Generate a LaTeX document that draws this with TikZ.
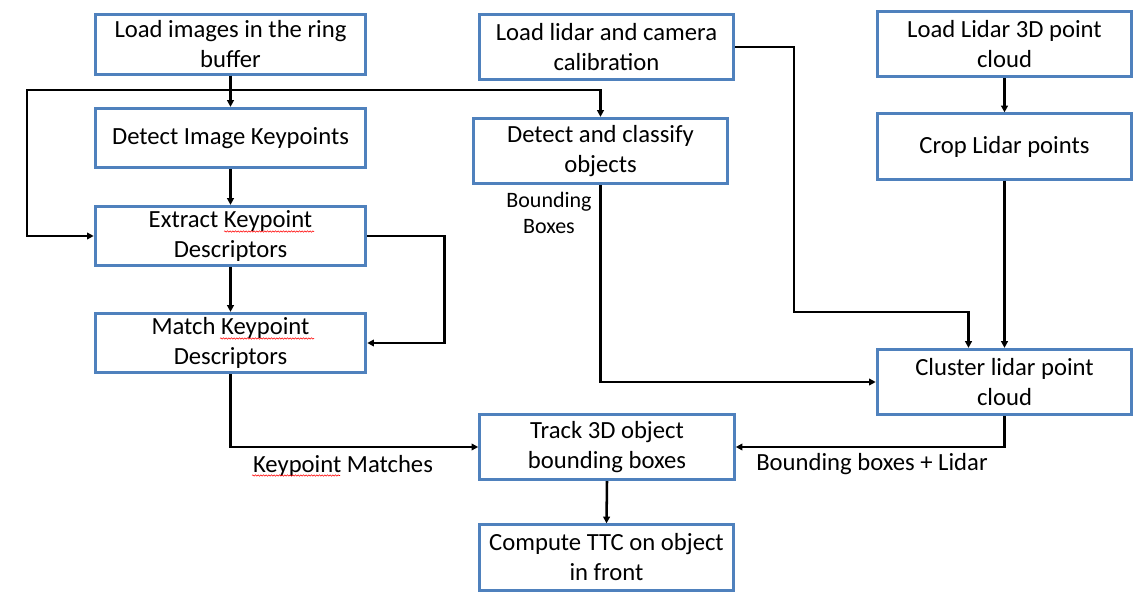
\documentclass[tikz,border=0pt]{standalone}
\usepackage{fontspec}
\setmainfont{Carlito}
\usetikzlibrary{arrows.meta,calc,positioning,decorations.pathmorphing}
\definecolor{boxblue}{RGB}{79,129,189}

\begin{document}
\begin{tikzpicture}[
    x=0.75pt,
    y=-0.75pt,
    >={Triangle[length=5pt,width=5pt]},
    box/.style={draw=boxblue, line width=2.2pt, align=center, minimum width=191pt, minimum height=49pt, inner sep=1pt, font=\fontsize{18.5}{22.5}\selectfont},
    widebox/.style={box, minimum width=203pt, minimum height=44.5pt},
    tag/.style={align=center, inner sep=0pt, font=\fontsize{18.5}{22.5}\selectfont},
    smalltag/.style={align=center, inner sep=0pt, font=\fontsize{16.5}{19.5}\selectfont},
    line/.style={->, line width=1.9pt},
    spell/.style={red, line width=0.4pt, decorate, decoration={snake, amplitude=0.5pt, segment length=2pt}}
]
\useasboundingbox (0,0) rectangle (1142,598);
% camera branch
\node[widebox] (ring) at (230.5,44.5) {Load images in the ring\\buffer};
\node[widebox] (kpdetect) at (230.5,138) {Detect Image Keypoints};
\node[widebox] (extract) at (230.5,236) {Extract Keypoint\\Descriptors};
\node[widebox] (match) at (230.5,343) {Match Keypoint\\Descriptors};
% object detection
\node[box] (calib) at (606.5,47) {Load lidar and camera\\calibration};
\node[box] (classify) at (600.5,151) {Detect and classify\\objects};
\node[box] (track) at (607,447) {Track 3D object\\bounding boxes};
\node[box] (ttc) at (606.5,557.5) {Compute TTC on object\\in front};
% lidar branch
\node[box] (loadlidar) at (1004.5,44) {Load Lidar 3D point\\cloud};
\node[box] (crop) at (1004.5,146.5) {Crop Lidar points};
\node[box] (cluster) at (1004.5,382) {Cluster lidar point\\cloud};
% labels
\node[smalltag] (bbtag) at (549,213) {Bounding\\Boxes};
\node[tag] (kmtag) at (343,466) {Keypoint Matches};
\node[tag] (bltag) at (872,464) {Bounding boxes + Lidar};

\coordinate (split) at (230.5,90);
\coordinate (leftbus) at (27,90);
\coordinate (calibbend) at (794,312);

\draw[line] (ring.south) -- (kpdetect.north);
\draw[line] (leftbus) -| (classify.north);
\draw[line] (split) -- (leftbus) |- (extract.west);
\draw[line] (kpdetect.south) -- (extract.north);
\draw[line] (extract.south) -- (match.north);
\draw[line] (extract.east) -- ++(77,0) |- (match.east);
\draw[line] (match.south) |- (track.west);
\draw[line] (calib.east) -| (calibbend) -| ($(cluster.north)+(-36,0)$);
\draw[line] (classify.south) |- (cluster.west);
\draw[line] (loadlidar.south) -- (crop.north);
\draw[line] (crop.south) -- (cluster.north);
\draw[line] (cluster.south) |- (track.east);
\draw[line] (track.south) -- (ttc.north);

% spell-check marks
\draw[spell] ($(extract.center)+(-6.5,-4.5)$) -- ($(extract.center)+(83.5,-4.5)$);
\draw[spell] ($(match.center)+(-10.5,-4.5)$) -- ($(match.center)+(83.5,-4.5)$);
\draw[spell] ($(kmtag.center)+(-91,9.5)$) -- ($(kmtag.center)+(-3,9.5)$);
\end{tikzpicture}
\end{document}
